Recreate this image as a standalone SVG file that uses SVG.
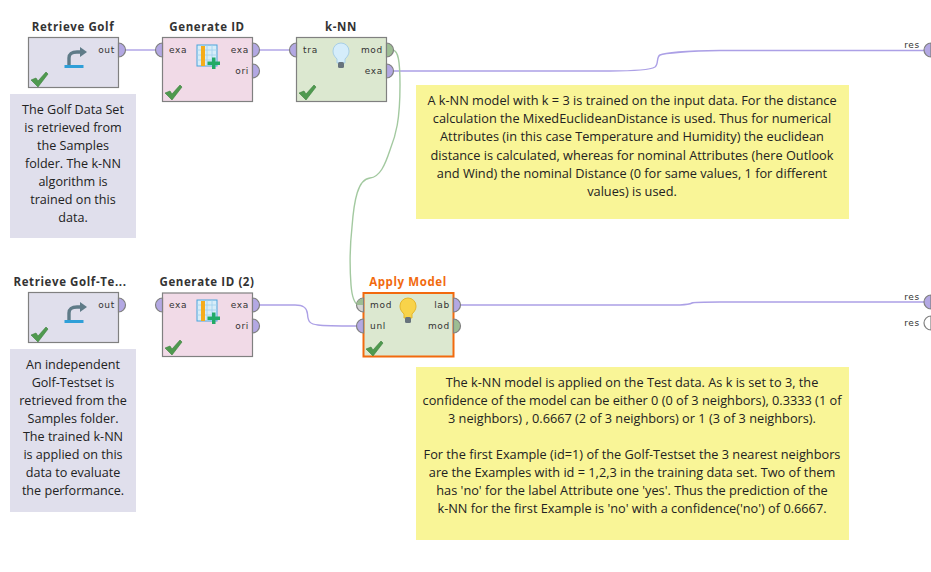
<svg xmlns="http://www.w3.org/2000/svg" width="931" height="572" viewBox="0 0 931 572">
<style>
.t{font-family:"Open Sans",sans-serif;font-weight:700;font-size:11.5px;fill:#333;text-anchor:middle;letter-spacing:.6px}
.p{font-family:"DejaVu Sans",sans-serif;font-size:9px;fill:#333;letter-spacing:.7px}
.e{text-anchor:end}
.n{font-family:"Open Sans",sans-serif;font-size:12.6px;fill:#222;text-anchor:middle}
.y{font-size:12.75px}
.box{stroke:#808080;stroke-width:1.2}
.port{stroke:#808080;stroke-width:1.2;fill:#b3a8e3}
.g{fill:#9dbd93}
.c{fill:none;stroke:#aca0e6;stroke-width:1.4}
.m{fill:none;stroke:#a3c9a0;stroke-width:1.4}
.lav{fill:#e0dfec}.pink{fill:#f1dae7}.grn{fill:#dce8d0}
</style>
<defs>
<path id="chk" d="M-8 1 L-3 -1 L-1 2 L7 -7 L9 -5 L-1 8 Z" fill="#4f9a4f" stroke="#3c7f3c" stroke-width=".6"/>
<g id="tbl"><rect x="0" y="0" width="20" height="21" fill="#d8edf8" stroke="#4aa3dc"/><path d="M5 0V21M10 0V21M15 0V21M0 5H20M0 10H20M0 15H20" stroke="#9fd0ee" stroke-width=".8"/><rect x="4" y="1" width="4" height="20" fill="#f5ac1c"/><path d="M15 12.500h3.500v4h4.500v3.500h-4.500v4h-3.500v-4h-4.500v-3.500h4.500z" fill="#22aa66"/></g>
<g id="ret"><path d="M-6 10 V3 Q-6 -3 2 -3 H6" fill="none" stroke="#5f7b88" stroke-width="3.4"/><path d="M5 -8 L12 -3 L5 2 Z" fill="#5f7b88"/><rect x="-10.500" y="10" width="19" height="3" fill="#2f9fd8"/></g>
</defs>
<rect x="10" y="94" width="126" height="144" class="lav"/>
<rect x="10" y="349" width="126" height="163" class="lav"/>
<rect x="416" y="85" width="433" height="134" fill="#f9f597"/>
<rect x="416" y="367" width="433" height="173" fill="#f9f597"/>
<g id="connectors">
<path class="c" d="M125 50H155"/>
<path class="c" d="M259 50H290"/>
<path class="c" d="M393 71H610C635 71 650 70 655 67C659 64 656 57 660 55C664 53 690 51 720 50.500H925"/>
<path class="c" d="M259 305H295C304 305 307 308 307.500 314C308 322 310 324 318 325C325 326 340 326 356 326"/>
<path class="c" d="M460 305H680C688 304.500 690 304 692 303C694 302 700 302 720 302H925"/>
<path class="m" d="M393 50C398 51 400 60 400 85C400 120 396 135 390 150C385 165 380 177 370 178C358 179 354 200 352 227C350 245 349.500 265 351 285C352 297 354 303 358 305"/>
</g>
<g id="retrieve-golf"><text class="t" x="73" y="31">Retrieve Golf</text><rect class="box lav" x="28.500" y="37.500" width="90" height="50"/><path class="port" d="M118.500 43a7 7 0 0 1 0 14z"/><text class="p e" x="115" y="53">out</text><use href="#ret" x="75" y="55"/><use href="#chk" x="39" y="79"/></g>
<g id="generate-id"><text class="t" x="207" y="31">Generate ID</text><rect class="box pink" x="162.500" y="37.500" width="90" height="64"/><path class="port" d="M162.500 43a7 7 0 0 0 0 14z"/><path class="port" d="M252.500 43a7 7 0 0 1 0 14z"/><path class="port" d="M252.500 64a7 7 0 0 1 0 14z"/><text class="p" x="169" y="53">exa</text><text class="p e" x="249" y="53">exa</text><text class="p e" x="249" y="74">ori</text><use href="#tbl" x="197" y="45"/><use href="#chk" x="173" y="92"/></g>
<g id="knn"><text class="t" x="341" y="31">k-NN</text><rect class="box grn" x="296.500" y="37.500" width="90" height="64"/><path class="port" d="M296.500 43a7 7 0 0 0 0 14z"/><path class="port g" d="M386.500 43a7 7 0 0 1 0 14z"/><path class="port" d="M386.500 64a7 7 0 0 1 0 14z"/><text class="p" x="303" y="53">tra</text><text class="p e" x="383" y="53">mod</text><text class="p e" x="383" y="74">exa</text><path d="M337 63v-4c-3-3-4-5-4-8a8 8 0 0 1 16 0c0 3-1 5-4 8v4z" fill="#d5edfb" stroke="#a8cfe6"/><rect x="338" y="62" width="6" height="6" rx="1.500" fill="#67737d"/><use href="#chk" x="307" y="92"/></g>
<g id="retrieve-golf-test"><text class="t" x="70" y="286">Retrieve Golf-Te...</text><rect class="box lav" x="28.500" y="292.500" width="90" height="50"/><path class="port" d="M118.500 298a7 7 0 0 1 0 14z"/><text class="p e" x="115" y="308">out</text><use href="#ret" x="75" y="310"/><use href="#chk" x="39" y="334"/></g>
<g id="generate-id-2"><text class="t" x="207" y="286">Generate ID (2)</text><rect class="box pink" x="162.500" y="293" width="90" height="63.500"/><path class="port" d="M162.500 298a7 7 0 0 0 0 14z"/><path class="port" d="M252.500 298a7 7 0 0 1 0 14z"/><path class="port" d="M252.500 319a7 7 0 0 1 0 14z"/><text class="p" x="169" y="308">exa</text><text class="p e" x="249" y="308">exa</text><text class="p e" x="249" y="329">ori</text><use href="#tbl" x="197" y="300"/><use href="#chk" x="173" y="347"/></g>
<g id="apply-model"><text class="t" x="408" y="286" style="fill:#f26a0e">Apply Model</text><rect x="363.500" y="293" width="90" height="63.500" class="grn" stroke="#f26a0e" stroke-width="2"/><path d="M363.500 298a7 7 0 0 0 0 14z" fill="#d4d4d4" stroke="#808080" stroke-width="1.200"/><path d="M363 298.500a6.500 6.500 0 0 0 -6.500 6.500h6.500z" fill="#9dbd93"/><path class="port" d="M363.500 319a7 7 0 0 0 0 14z"/><path class="port" d="M453.500 298a7 7 0 0 1 0 14z"/><path class="port g" d="M453.500 319a7 7 0 0 1 0 14z"/><text class="p" x="370" y="308">mod</text><text class="p" x="370" y="329">unl</text><text class="p e" x="450" y="308">lab</text><text class="p e" x="450" y="329">mod</text><path d="M404 318v-4c-3-3-4-5-4-8a8 8 0 0 1 16 0c0 3-1 5-4 8v4z" fill="#f8d34a" stroke="#e5b72c"/><rect x="405" y="317" width="6" height="6" rx="1.500" fill="#67737d"/><use href="#chk" x="374" y="348"/></g>
<g id="result-ports"><path class="port" d="M931 43a7 7 0 0 0 0 14z"/><text class="p e" x="920" y="48">res</text><path class="port" d="M931 295a7 7 0 0 0 0 14z"/><text class="p e" x="920" y="300">res</text><path class="port" d="M931 316a7 7 0 0 0 0 14z" style="fill:#fff"/><text class="p e" x="920" y="326">res</text></g>
<g id="note-1"><text class="n" x="73" y="114">The Golf Data Set</text><text class="n" x="73" y="132">is retrieved from</text><text class="n" x="73" y="150">the Samples</text><text class="n" x="73" y="168">folder. The k-NN</text><text class="n" x="73" y="186">algorithm is</text><text class="n" x="73" y="204">trained on this</text><text class="n" x="73" y="222">data.</text></g>
<g id="note-2"><text class="n" x="73" y="369">An independent</text><text class="n" x="73" y="387">Golf-Testset is</text><text class="n" x="73" y="405">retrieved from the</text><text class="n" x="73" y="423">Samples folder.</text><text class="n" x="73" y="441">The trained k-NN</text><text class="n" x="73" y="459">is applied on this</text><text class="n" x="73" y="477">data to evaluate</text><text class="n" x="73" y="495">the performance.</text></g>
<g id="note-3"><text class="n y" x="632" y="105">A k-NN model with k = 3 is trained on the input data. For the distance</text><text class="n y" x="632" y="123">calculation the MixedEuclideanDistance is used. Thus for numerical</text><text class="n y" x="632" y="141">Attributes (in this case Temperature and Humidity) the euclidean</text><text class="n y" x="632" y="160">distance is calculated, whereas for nominal Attributes (here Outlook</text><text class="n y" x="632" y="178">and Wind) the nominal Distance (0 for same values, 1 for different</text><text class="n y" x="632" y="196">values) is used.</text></g>
<g id="note-4"><text class="n y" x="632" y="387">The k-NN model is applied on the Test data. As k is set to 3, the</text><text class="n y" x="632" y="405">confidence of the model can be either 0 (0 of 3 neighbors), 0.3333 (1 of</text><text class="n y" x="632" y="423">3 neighbors) , 0.6667 (2 of 3 neighbors) or 1 (3 of 3 neighbors).</text><text class="n y" x="632" y="459">For the first Example (id=1) of the Golf-Testset the 3 nearest neighbors</text><text class="n y" x="632" y="477">are the Examples with id = 1,2,3 in the training data set. Two of them</text><text class="n y" x="632" y="495">has 'no' for the label Attribute one 'yes'. Thus the prediction of the</text><text class="n y" x="632" y="513">k-NN for the first Example is 'no' with a confidence('no') of 0.6667.</text></g>
</svg>
